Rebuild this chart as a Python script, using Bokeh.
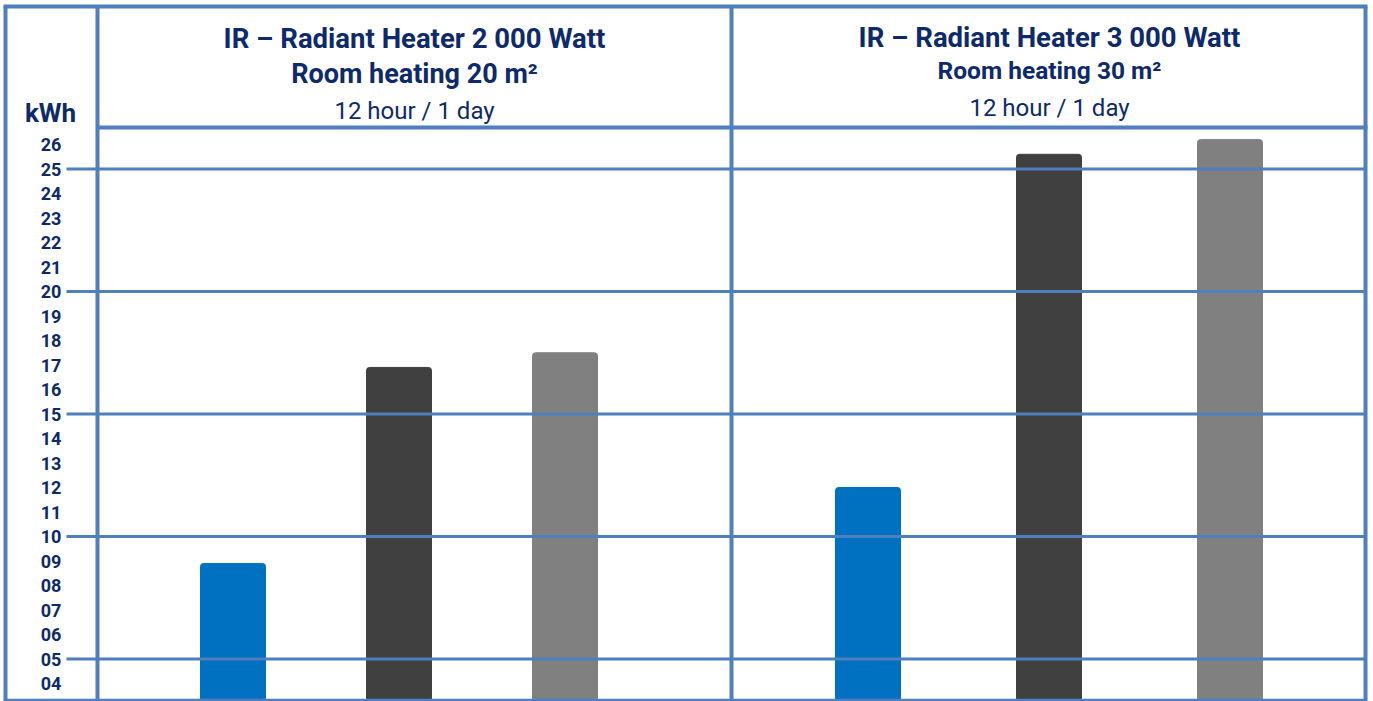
from bokeh.plotting import figure
from bokeh.models import Range1d, ColumnDataSource
from bokeh.core.properties import value
from bokeh.embed import file_html
from bokeh.resources import INLINE

# ---------------- data ----------------
panel_titles = ["IR – Radiant Heater 2 000 Watt", "IR – Radiant Heater 3 000 Watt"]
panel_subtitles = ["Room heating 20 m²", "Room heating 30 m²"]
panel_notes = ["12 hour / 1 day", "12 hour / 1 day"]
series_colors = ["#0070C0", "#404040", "#808080"]
kwh_panel1 = [8.9, 16.9, 17.5]
kwh_panel2 = [12.0, 25.6, 26.2]
tick_values = list(range(4, 27))
tick_labels = [f"{v:02d}" for v in tick_values]
grid_values = [5, 10, 15, 20, 25]
unit_label = "kWh"

# ---------------- layout ----------------
W, H = 1373, 701
OX, OY = 0, 0
ZERO_PY = 781.0         # reference pixel row of value 0
PX_PER_UNIT = 24.5
FONT = "Roboto"
TXT = "#0E2A6A"
LINE = "#4F7FBE"


def Y(py):
    return (ZERO_PY - py) / PX_PER_UNIT


p = figure(width=W, height=H, output_backend="svg", toolbar_location=None,
           x_range=Range1d(OX, OX + W), y_range=Range1d(Y(OY + H), Y(OY)),
           x_axis_type=None, y_axis_type=None, min_border=0,
           outline_line_color=None, background_fill_color="white",
           border_fill_color="white")
p.grid.visible = False

# bars
panels = [(97, 135.5, 166, kwh_panel1), (731, 136.5, 181, kwh_panel2)]
bx, btop, bcol = [], [], []
for left, off, step, vals in panels:
    for i, v in enumerate(vals):
        bx.append(left + off + i * step)
        btop.append(v)
        bcol.append(series_colors[i])
p.vbar(x="x", top="top", bottom=0, width=65, color="color",
       source=ColumnDataSource(dict(x=bx, top=btop, color=bcol)),
       border_radius=3)

# frame lines
top_y, bot_y = Y(6), Y(699)
fx0 = [5, 97, 731, 1365, 3, 97]
fx1 = [5, 97, 731, 1365, 1367, 1367]
fy0 = [top_y, top_y, top_y, top_y, top_y, Y(127)]
fy1 = [bot_y, bot_y, bot_y, bot_y, top_y, Y(127)]
p.segment(x0=fx0, y0=fy0, x1=fx1, y1=fy1, line_color=LINE, line_width=4)
p.segment(x0=[3], y0=[Y(699.5)], x1=[1367], y1=[Y(699.5)],
          line_color=LINE, line_width=2.5)

# grid lines (drawn over bars, as in the reference)
p.segment(x0=[66] * len(grid_values), y0=grid_values,
          x1=[1365] * len(grid_values), y1=grid_values,
          line_color=LINE, line_width=3)

# tick labels
p.text(x=[50.5] * len(tick_values), y=tick_values, text=tick_labels,
       text_font=value(FONT), text_font_style="bold", text_font_size="18px",
       text_color=TXT, text_align="center", text_baseline="middle")
p.text(x=[50], y=[Y(112)], text=[unit_label], text_font=value(FONT),
       text_font_style="bold", text_font_size="26px", text_color=TXT,
       text_align="center", text_baseline="alphabetic")

# headers
centers = [414, 1049]
p.text(x=centers, y=[Y(38), Y(37)], text=panel_titles, text_font=value(FONT),
       text_font_style="bold", text_font_size="27.5px", text_color=TXT,
       text_align="center", text_baseline="alphabetic")
p.text(x=centers, y=[Y(73), Y(70)], text=panel_subtitles, text_font=value(FONT),
       text_font_style="bold", text_font_size=["27px", "24.5px"], text_color=TXT,
       text_align="center", text_baseline="alphabetic")
p.text(x=centers, y=[Y(110), Y(107)], text=panel_notes, text_font=value(FONT),
       text_font_style="normal", text_font_size="24px", text_color=TXT,
       text_align="center", text_baseline="alphabetic")

open("out.html", "w").write(file_html(p, INLINE))
